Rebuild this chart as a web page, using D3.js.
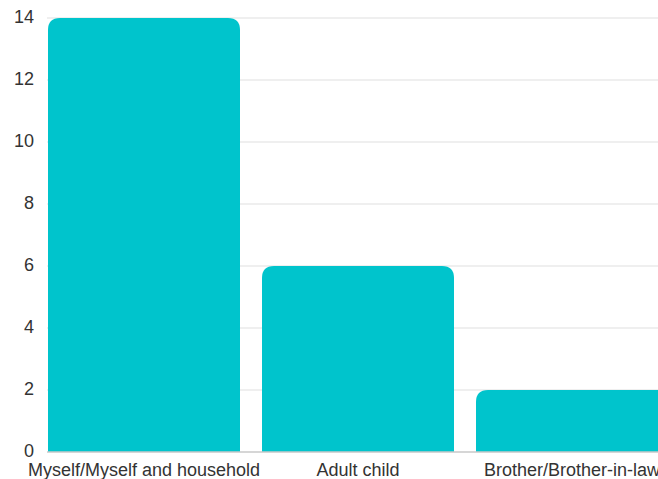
<!DOCTYPE html>
<html>
<head>
<meta charset="utf-8">
<script src="https://cdn.jsdelivr.net/npm/d3@7"></script>
<style>
  html, body { margin: 0; padding: 0; background: #fff; }
  svg { display: block; font-family: "Liberation Sans", Arial, sans-serif; }
</style>
</head>
<body>
<svg id="chart" width="658" height="479"></svg>
<script>
const categories = ["Myself/Myself and household", "Adult child", "Brother/Brother-in-law"];
const values = [14, 6, 2];
const yTicks = [0, 2, 4, 6, 8, 10, 12, 14];

(function () {
  const svg = d3.select("#chart");
  const plotLeft = 48, plotRight = 668, plotTop = 18, plotBottom = 452;

  const x = d3.scaleBand().domain(categories).range([plotLeft, plotRight])
    .paddingInner(22 / 214).paddingOuter(0);
  const y = d3.scaleLinear().domain([0, 14]).range([plotBottom, plotTop]);

  // horizontal grid
  svg.append("g").selectAll("line").data(yTicks.filter(d => d > 0)).join("line")
    .attr("x1", plotLeft - 1).attr("x2", 658)
    .attr("y1", d => y(d)).attr("y2", d => y(d))
    .attr("stroke", "#e0e0e0").attr("stroke-width", 1.2);

  // y tick labels
  svg.append("g").selectAll("text").data(yTicks).join("text")
    .attr("x", 34).attr("y", d => y(d)).attr("dy", "0.3em")
    .attr("text-anchor", "end").attr("font-size", 18).attr("fill", "#333")
    .text(d => d);

  // bars with rounded top corners
  const r = 12;
  function barPath(d, i) {
    const x0 = x(categories[i]), w = x.bandwidth();
    const y0 = y(d), y1 = y(0);
    return `M${x0},${y1}V${y0 + r}Q${x0},${y0} ${x0 + r},${y0}H${x0 + w - r}Q${x0 + w},${y0} ${x0 + w},${y0 + r}V${y1}Z`;
  }
  svg.append("g").selectAll("path").data(values).join("path")
    .attr("d", barPath).attr("fill", "#00c4cc");

  // baseline
  svg.append("line").attr("x1", plotLeft - 1).attr("x2", 658)
    .attr("y1", y(0)).attr("y2", y(0))
    .attr("stroke", "#c8c8c8").attr("stroke-width", 1.5);

  // category labels
  svg.append("g").selectAll("text").data(categories).join("text")
    .attr("x", d => x(d) + x.bandwidth() / 2).attr("y", 476)
    .attr("text-anchor", "middle").attr("font-size", 18).attr("fill", "#333")
    .text(d => d);
})();
</script>
</body>
</html>
